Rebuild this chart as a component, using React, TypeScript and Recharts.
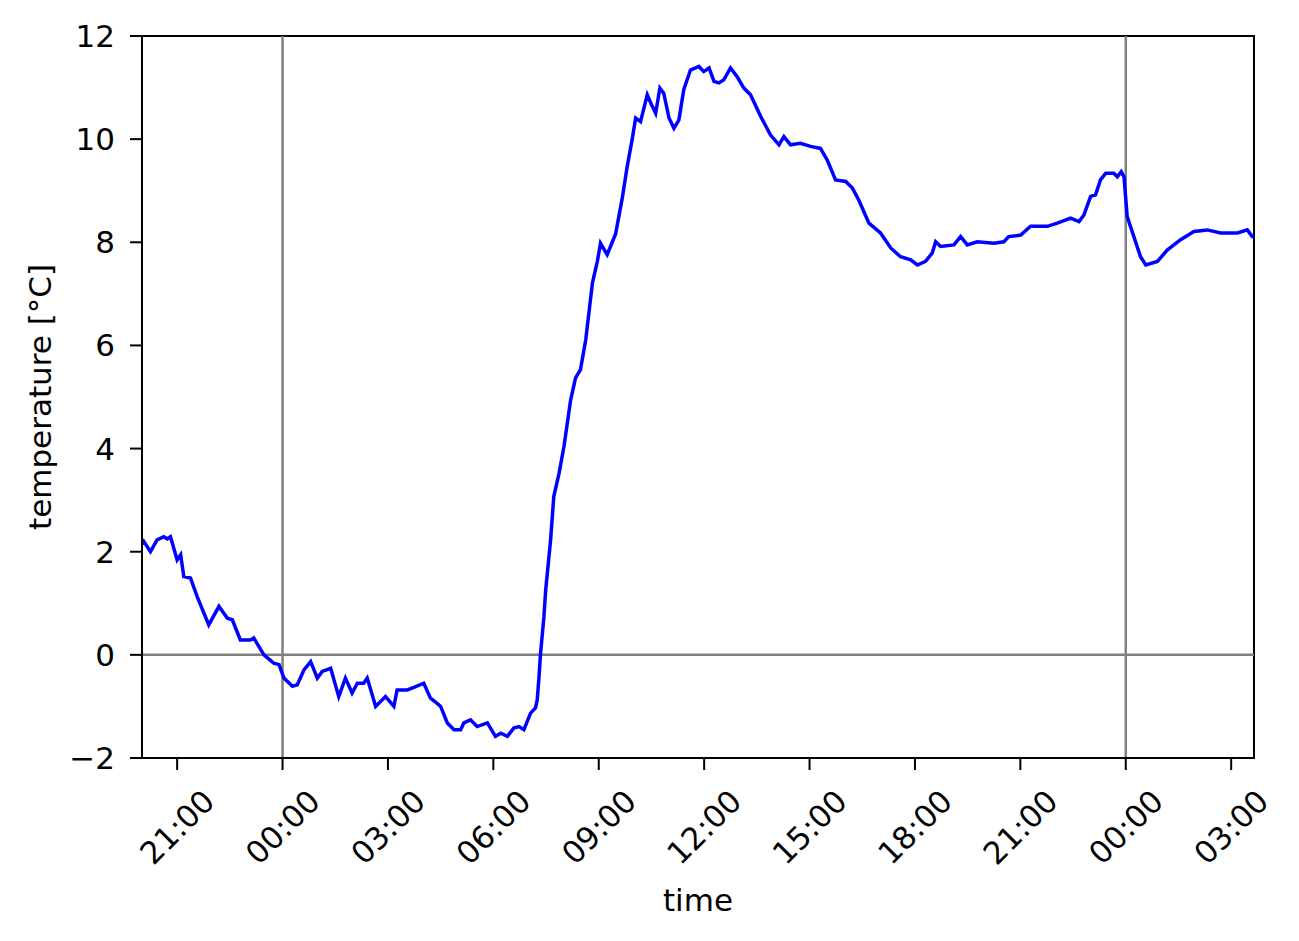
import {
  Label,
  Line,
  LineChart,
  ReferenceArea,
  ReferenceLine,
  XAxis,
  YAxis,
} from "recharts";

// hours since midnight of the first day
const hours = [
  -4.0, -3.95, -3.76, -3.57, -3.38, -3.28, -3.19, -3.0, -2.9, -2.81, -2.62,
  -2.43, -2.1, -1.81, -1.57, -1.43, -1.2, -0.91, -0.82, -0.53, -0.25, -0.1,
  0.04, 0.28, 0.42, 0.61, 0.8, 0.99, 1.13, 1.37, 1.6, 1.79, 1.98, 2.13, 2.31,
  2.41, 2.65, 2.93, 3.17, 3.26, 3.55, 3.74, 4.02, 4.21, 4.4, 4.5, 4.69, 4.88,
  5.07, 5.16, 5.35, 5.54, 5.83, 6.06, 6.21, 6.4, 6.58, 6.73, 6.87, 7.06, 7.2,
  7.25, 7.3, 7.34, 7.44, 7.49, 7.63, 7.72, 7.87, 8.01, 8.2, 8.34, 8.48, 8.63,
  8.82, 8.96, 9.05, 9.24, 9.48, 9.67, 9.81, 9.95, 10.05, 10.19, 10.38, 10.48,
  10.62, 10.74, 10.85, 11.0, 11.14, 11.28, 11.42, 11.61, 11.85, 11.99, 12.14,
  12.28, 12.42, 12.56, 12.75, 12.94, 13.13, 13.32, 13.61, 13.89, 14.13, 14.27,
  14.46, 14.74, 15.03, 15.31, 15.5, 15.74, 16.03, 16.22, 16.4, 16.69, 17.02,
  17.31, 17.59, 17.88, 18.07, 18.3, 18.49, 18.59, 18.73, 19.11, 19.3, 19.49,
  19.77, 20.25, 20.53, 20.67, 21.01, 21.29, 21.77, 22.05, 22.43, 22.67, 22.81,
  23.0, 23.14, 23.28, 23.43, 23.66, 23.76, 23.87, 23.95, 24.04, 24.23, 24.42,
  24.57, 24.9, 25.18, 25.56, 25.94, 26.32, 26.7, 27.18, 27.46, 27.6, 27.65,
];

const temperatures = [
  2.15, 2.2, 2.0, 2.23, 2.29, 2.25, 2.29, 1.84, 1.94, 1.52, 1.49, 1.13, 0.58,
  0.94, 0.71, 0.68, 0.29, 0.29, 0.33, 0.0, -0.16, -0.19, -0.45, -0.61, -0.58,
  -0.29, -0.13, -0.45, -0.32, -0.26, -0.81, -0.45, -0.74, -0.55, -0.55, -0.45,
  -1.0, -0.81, -1.0, -0.68, -0.68, -0.63, -0.55, -0.84, -0.94, -1.0, -1.32,
  -1.45, -1.45, -1.32, -1.26, -1.39, -1.32, -1.58, -1.52, -1.58, -1.42, -1.39,
  -1.45, -1.13, -1.03, -0.87, -0.42, 0.0, 0.74, 1.26, 2.23, 3.07, 3.52, 4.04,
  4.94, 5.37, 5.53, 6.11, 7.21, 7.63, 7.98, 7.76, 8.16, 8.86, 9.47, 9.99,
  10.41, 10.34, 10.86, 10.7, 10.5, 10.99, 10.89, 10.41, 10.21, 10.37, 10.96,
  11.34, 11.41, 11.31, 11.38, 11.12, 11.09, 11.15, 11.38, 11.21, 10.99, 10.86,
  10.44, 10.08, 9.89, 10.05, 9.89, 9.92, 9.86, 9.82, 9.6, 9.21, 9.18, 9.05,
  8.82, 8.37, 8.18, 7.89, 7.72, 7.66, 7.56, 7.63, 7.79, 8.01, 7.92, 7.95, 8.11,
  7.95, 8.01, 7.98, 8.01, 8.11, 8.14, 8.31, 8.31, 8.37, 8.47, 8.4, 8.53, 8.89,
  8.92, 9.21, 9.34, 9.34, 9.27, 9.37, 9.27, 8.5, 8.11, 7.72, 7.56, 7.63, 7.85,
  8.05, 8.21, 8.24, 8.18, 8.18, 8.24, 8.11, 8.11,
];

const xTicks = [-3, 0, 3, 6, 9, 12, 15, 18, 21, 24, 27];
const yTicks = [-2, 0, 2, 4, 6, 8, 10, 12];

const data = hours.map((t, i) => ({ t, temp: temperatures[i] }));

const FONT = "'DejaVu Sans', sans-serif";
const FONT_SIZE = 31;

const fmtHour = (h: number) => {
  const hh = ((h % 24) + 24) % 24;
  return `${String(hh).padStart(2, "0")}:00`;
};

function XTick(props: any) {
  const { x, y, payload } = props;
  const cx = x;
  const cy = y + 57;
  return (
    <text
      x={cx}
      y={cy}
      textAnchor="middle"
      dominantBaseline="central"
      transform={`rotate(-45, ${cx}, ${cy})`}
      fontFamily={FONT}
      fontSize={FONT_SIZE}
      fill="#000"
    >
      {fmtHour(payload.value)}
    </text>
  );
}

function YTick(props: any) {
  const { x, y, payload } = props;
  const v = payload.value as number;
  return (
    <text
      x={x}
      y={y}
      textAnchor="end"
      dominantBaseline="central"
      fontFamily={FONT}
      fontSize={FONT_SIZE}
      fill="#000"
    >
      {v < 0 ? `\u2212${Math.abs(v)}` : String(v)}
    </text>
  );
}

export default function App() {
  return (
    <LineChart
      width={1283}
      height={925}
      data={data}
      margin={{ top: 28, right: 37, bottom: 0, left: 0 }}
    >
      <XAxis
        dataKey="t"
        type="number"
        domain={[-4, 27.65]}
        ticks={xTicks}
        allowDataOverflow
        height={175}
        tickSize={12}
        tickMargin={0}
        tick={<XTick />}
        tickLine={{ stroke: "#000", strokeWidth: 2 }}
        axisLine={{ stroke: "#000", strokeWidth: 2 }}
      >
        <Label
          value="time"
          position="insideBottom"
          offset={22}
          style={{ fontFamily: FONT, fontSize: FONT_SIZE, fill: "#000" }}
        />
      </XAxis>
      <YAxis
        type="number"
        domain={[-2, 12]}
        ticks={yTicks}
        allowDataOverflow
        width={134}
        tickSize={12}
        tickMargin={15}
        tick={<YTick />}
        tickLine={{ stroke: "#000", strokeWidth: 2 }}
        axisLine={{ stroke: "#000", strokeWidth: 2 }}
      >
        <Label
          content={({ viewBox }: any) => {
            const cx = 32;
            const cy = viewBox.y + viewBox.height / 2;
            return (
              <text
                x={cx}
                y={cy}
                textAnchor="middle"
                dominantBaseline="central"
                transform={`rotate(-90, ${cx}, ${cy})`}
                fontFamily={FONT}
                fontSize={FONT_SIZE}
                fill="#000"
              >
                temperature [°C]
              </text>
            );
          }}
        />
      </YAxis>
      <ReferenceLine x={0} stroke="#808080" strokeWidth={2.5} />
      <ReferenceLine x={24} stroke="#808080" strokeWidth={2.5} />
      <ReferenceLine y={0} stroke="#808080" strokeWidth={2.5} />
      <Line
        type="linear"
        dataKey="temp"
        stroke="#0000ff"
        strokeWidth={3.5}
        dot={false}
        isAnimationActive={false}
      />
      <ReferenceArea
        x1={-4}
        x2={27.65}
        y1={-2}
        y2={12}
        fill="none"
        stroke="#000"
        strokeWidth={2}
      />
    </LineChart>
  );
}
